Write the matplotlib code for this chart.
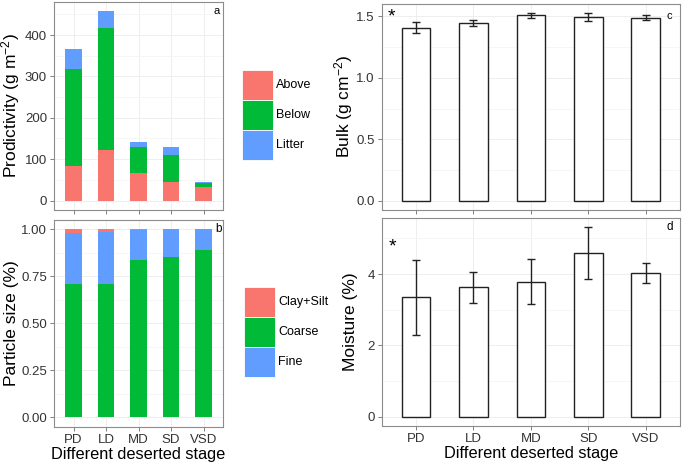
import matplotlib
matplotlib.use("Agg")
import matplotlib.pyplot as plt
from matplotlib.patches import Patch
from matplotlib.ticker import FixedLocator, FormatStrFormatter
import numpy as np

plt.rcParams['font.family'] = ['Liberation Sans', 'DejaVu Sans']
plt.rcParams['mathtext.fontset'] = 'custom'
plt.rcParams['mathtext.rm'] = 'Liberation Sans'
plt.rcParams['mathtext.it'] = 'Liberation Sans:italic'
plt.rcParams['mathtext.bf'] = 'Liberation Sans:bold'

stages = ['PD', 'LD', 'MD', 'SD', 'VSD']

# panel a: productivity (g m-2), stacked
above = [83, 122, 67, 44, 32]
below = [236, 296, 62, 65, 10]
litter = [48, 39, 13, 21, 3]

# panel b: particle size fractions, stacked
coarse = [0.708, 0.708, 0.835, 0.851, 0.890]
fine = [0.269, 0.276, 0.161, 0.147, 0.110]
clay_silt = [0.023, 0.016, 0.004, 0.002, 0.000]

# panel c: bulk density
bulk = [1.408, 1.446, 1.508, 1.492, 1.489]
bulk_err = [0.043, 0.022, 0.020, 0.033, 0.022]

# panel d: moisture
moisture = [3.35, 3.63, 3.79, 4.58, 4.02]
moisture_err = [1.06, 0.44, 0.63, 0.73, 0.28]

RED = '#F8766D'
GREEN = '#00BA38'
BLUE = '#619CFF'

W, H = 685, 467
fig = plt.figure(figsize=(W / 100, H / 100), dpi=100)


def box(left, top, right, bottom):
    return fig.add_axes([left / W, 1 - bottom / H, (right - left) / W, (bottom - top) / H])


def style(ax, ymax, minor, ylabel, labx, show_x):
    x = np.arange(len(stages))
    ax.set_xlim(-0.6, len(stages) - 0.4)
    ax.set_ylim(-0.05 * ymax, 1.05 * ymax)
    ax.set_xticks(x)
    ax.set_xticklabels(stages if show_x else [])
    ax.yaxis.set_minor_locator(FixedLocator(minor))
    ax.grid(True, which='major', color='#EBEBEB', lw=0.6)
    ax.grid(True, which='minor', axis='y', color='#F5F5F5', lw=0.6)
    ax.set_axisbelow(True)
    for s in ax.spines.values():
        s.set_color('#8C8C8C')
        s.set_linewidth(0.8)
    ax.tick_params(which='major', length=3, width=0.7, color='#7F7F7F',
                   labelsize=9.5, labelcolor='#333333', pad=2)
    ax.tick_params(which='minor', length=0)
    ax.set_ylabel(ylabel, fontsize=12.5)
    ax.yaxis.set_label_coords(labx, 0.5)
    if show_x:
        ax.set_xlabel('Different deserted stage', fontsize=11.8, labelpad=1)


x = np.arange(len(stages))
bw = 0.5

# a
ax_a = box(54, 2, 223, 210)
ax_a.bar(x, above, bw, color=RED, label='Above')
ax_a.bar(x, below, bw, bottom=above, color=GREEN, label='Below')
ax_a.bar(x, litter, bw, bottom=np.add(above, below), color=BLUE, label='Litter')
tot_a = max(np.add(np.add(above, below), litter))
style(ax_a, tot_a, [50, 150, 250, 350, 450], 'Prodictivity (g m$^{-2}$)', -0.19, False)
ax_a.set_yticks([0, 100, 200, 300, 400])
ax_a.text(0.965, 0.955, 'a', transform=ax_a.transAxes, fontsize=8, ha='center', va='center')

# b
ax_b = box(54, 219.6, 223, 426.7)
ax_b.bar(x, coarse, bw, color=GREEN)
ax_b.bar(x, fine, bw, bottom=coarse, color=BLUE)
ax_b.bar(x, clay_silt, bw, bottom=np.add(coarse, fine), color=RED)
style(ax_b, 1.0, [0.125, 0.375, 0.625, 0.875], 'Particle size (%)', -0.205, True)
ax_b.set_yticks([0, 0.25, 0.5, 0.75, 1.0])
ax_b.yaxis.set_major_formatter(FormatStrFormatter('%.2f'))
ax_b.text(0.975, 0.955, 'b', transform=ax_b.transAxes, fontsize=8.5, ha='center', va='center')

# c
ax_c = box(381.7, 3.6, 680, 210)
ax_c.bar(x, bulk, bw, color='white', edgecolor='#222222', lw=1.0)
ax_c.errorbar(x, bulk, yerr=bulk_err, fmt='none', ecolor='#222222', elinewidth=1.0,
              capsize=2.8, capthick=1.0)
style(ax_c, max(np.add(bulk, bulk_err)), [0.25, 0.75, 1.25], 'Bulk (g cm$^{-2}$)', -0.088, False)
ax_c.set_yticks([0, 0.5, 1.0, 1.5])
ax_c.yaxis.set_major_formatter(FormatStrFormatter('%.1f'))
ax_c.text(0.034, 0.935, '*', transform=ax_c.transAxes, fontsize=14, ha='center', va='center')
ax_c.text(0.965, 0.94, 'c', transform=ax_c.transAxes, fontsize=8, ha='center', va='center')

# d
ax_d = box(381.7, 218, 680, 426)
ax_d.bar(x, moisture, bw, color='white', edgecolor='#222222', lw=1.0)
ax_d.errorbar(x, moisture, yerr=moisture_err, fmt='none', ecolor='#222222', elinewidth=1.0,
              capsize=2.8, capthick=1.0)
style(ax_d, max(np.add(moisture, moisture_err)), [1, 3, 5], 'Moisture (%)', -0.08, True)
ax_d.set_yticks([0, 2, 4])
ax_d.text(0.037, 0.86, '*', transform=ax_d.transAxes, fontsize=14, ha='center', va='center')
ax_d.text(0.965, 0.955, 'd', transform=ax_d.transAxes, fontsize=8.5, ha='center', va='center')

# legends
leg_kw = dict(loc='upper left', frameon=False, fontsize=9, handlelength=2.45,
              handleheight=3.3, labelspacing=0, handletextpad=0.3,
              borderpad=0, borderaxespad=0)
h_a = [Patch(facecolor=c, edgecolor='white', lw=0.6) for c in (RED, GREEN, BLUE)]
fig.legend(h_a, ['Above', 'Below', 'Litter'], bbox_to_anchor=(242 / W, 1 - 70 / H), **leg_kw)
h_b = [Patch(facecolor=c, edgecolor='white', lw=0.6) for c in (RED, GREEN, BLUE)]
fig.legend(h_b, ['Clay+Silt', 'Coarse', 'Fine'], bbox_to_anchor=(244 / W, 1 - 287 / H), **leg_kw)

fig.savefig('out.png', dpi=100)
